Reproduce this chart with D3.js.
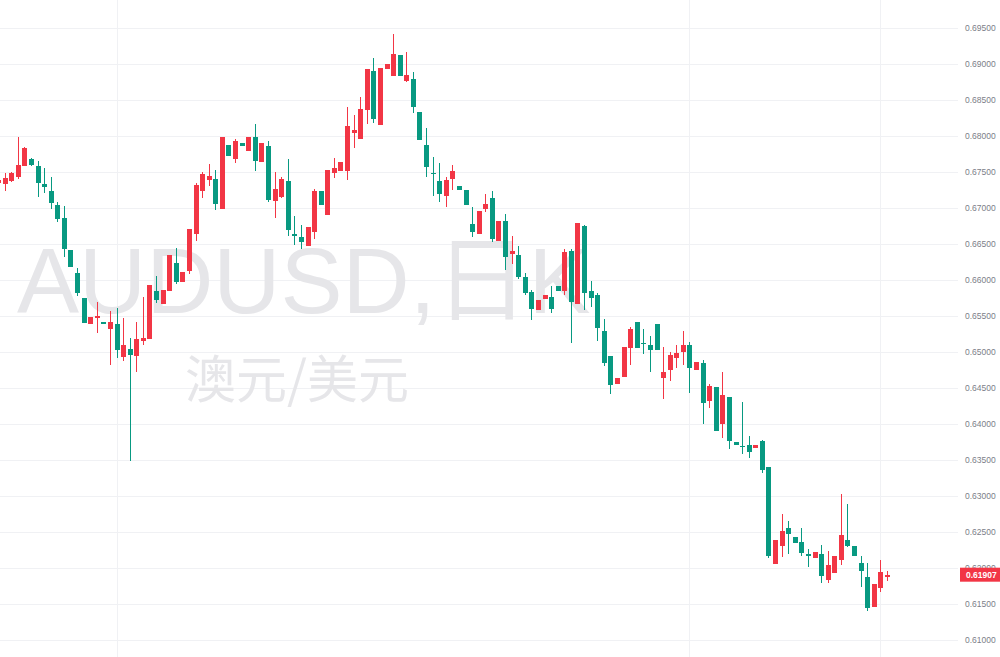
<!DOCTYPE html>
<html>
<head>
<meta charset="utf-8">
<script src="https://cdn.jsdelivr.net/npm/d3@7"></script>
<style>
  html, body { margin: 0; padding: 0; background: #ffffff; }
  svg { display: block; }
</style>
</head>
<body>
<svg id="chart" width="1000" height="657"></svg>
<script>
// ---- data (AUDUSD daily candles) ----
const symbolText = "AUDUSD,日K";
const nameText = "澳元/美元";
const lastPrice = 0.61907;

const opens = [
0.67347, 0.67333, 0.67375, 0.67431, 0.67584, 0.67681, 0.67584, 0.67333, 0.67236, 0.67042,
0.66861, 0.66417, 0.66097, 0.65750, 0.65388, 0.65472, 0.65416, 0.65319, 0.65388, 0.64931,
0.65042, 0.64945, 0.65153, 0.65181, 0.65847, 0.65666, 0.65847, 0.66236, 0.65972, 0.66125,
0.66639, 0.67236, 0.67389, 0.67403, 0.66986, 0.67875, 0.67681, 0.67903, 0.67792, 0.67986,
0.67639, 0.67861, 0.67097, 0.67153, 0.67375, 0.66639, 0.66597, 0.66472, 0.66667, 0.67236,
0.66903, 0.67486, 0.67514, 0.67514, 0.68041, 0.67958, 0.68361, 0.68903, 0.68153, 0.68931,
0.68833, 0.69125, 0.68764, 0.68792, 0.68333, 0.67875, 0.67486, 0.67375, 0.67167, 0.67403,
0.67306, 0.67250, 0.66778, 0.66639, 0.66986, 0.67139, 0.66542, 0.66819, 0.66362, 0.66348,
0.66042, 0.65833, 0.65583, 0.65736, 0.65764, 0.65917, 0.65847, 0.66403, 0.65666, 0.66750,
0.65847, 0.65792, 0.65292, 0.64945, 0.64556, 0.64653, 0.65056, 0.65416, 0.65125, 0.65097,
0.65388, 0.64639, 0.64750, 0.64917, 0.65000, 0.65097, 0.64750, 0.64847, 0.64319, 0.64514,
0.64000, 0.64375, 0.63750, 0.63694, 0.63708, 0.63667, 0.63764, 0.63403, 0.62056, 0.62305,
0.62556, 0.62430, 0.62361, 0.62194, 0.62139, 0.62194, 0.61833, 0.61931, 0.62111, 0.62389,
0.62305, 0.62069, 0.61875, 0.61459, 0.61722, 0.61875
];
const highs = [
0.67417, 0.67486, 0.67500, 0.67986, 0.67847, 0.67695, 0.67653, 0.67556, 0.67431, 0.67083,
0.67028, 0.66417, 0.66167, 0.65750, 0.65486, 0.65694, 0.65416, 0.65569, 0.65611, 0.65472,
0.65195, 0.65416, 0.65764, 0.65931, 0.66056, 0.65861, 0.66348, 0.66445, 0.66111, 0.66708,
0.67347, 0.67500, 0.67611, 0.67528, 0.67986, 0.67875, 0.67958, 0.67903, 0.67986, 0.68167,
0.67903, 0.67930, 0.67500, 0.67431, 0.67681, 0.66889, 0.66764, 0.66736, 0.67264, 0.67236,
0.67528, 0.67695, 0.67639, 0.68403, 0.68292, 0.68542, 0.68931, 0.69083, 0.68945, 0.69000,
0.69417, 0.69125, 0.69167, 0.68889, 0.68333, 0.68111, 0.67708, 0.67625, 0.67431, 0.67598,
0.67306, 0.67250, 0.67014, 0.66958, 0.67194, 0.67236, 0.66819, 0.66917, 0.66611, 0.66472,
0.66097, 0.65861, 0.65722, 0.65792, 0.65917, 0.65917, 0.66431, 0.66431, 0.66792, 0.66764,
0.65986, 0.65819, 0.65458, 0.64945, 0.64639, 0.65069, 0.65347, 0.65416, 0.65319, 0.65222,
0.65388, 0.65069, 0.65000, 0.65097, 0.65292, 0.65139, 0.64861, 0.64889, 0.64556, 0.64514,
0.64722, 0.64375, 0.63750, 0.64306, 0.63833, 0.63708, 0.63778, 0.63403, 0.62389, 0.62750,
0.62653, 0.62430, 0.62556, 0.62264, 0.62222, 0.62319, 0.62236, 0.62167, 0.63028, 0.62889,
0.62305, 0.62167, 0.62069, 0.61778, 0.62111, 0.61958
];
const lows = [
0.67320, 0.67236, 0.67361, 0.67403, 0.67584, 0.67584, 0.67153, 0.67208, 0.66986, 0.66805,
0.66320, 0.66181, 0.65778, 0.65402, 0.65388, 0.65264, 0.65388, 0.64820, 0.64917, 0.64875,
0.63486, 0.64722, 0.65097, 0.65181, 0.65680, 0.65666, 0.65847, 0.65944, 0.65972, 0.66083,
0.66542, 0.67139, 0.67306, 0.66972, 0.66986, 0.67722, 0.67625, 0.67861, 0.67792, 0.67514,
0.67639, 0.67083, 0.66861, 0.67139, 0.66611, 0.66486, 0.66431, 0.66472, 0.66569, 0.67042,
0.66903, 0.67417, 0.67514, 0.67389, 0.67833, 0.67958, 0.68167, 0.68181, 0.68153, 0.68931,
0.68833, 0.68833, 0.68750, 0.68319, 0.67944, 0.67431, 0.67167, 0.67083, 0.67014, 0.67250,
0.67250, 0.67042, 0.66597, 0.66639, 0.66944, 0.66528, 0.66542, 0.66139, 0.66222, 0.66014,
0.65792, 0.65444, 0.65583, 0.65736, 0.65542, 0.65847, 0.65792, 0.65125, 0.65666, 0.65583,
0.65625, 0.65153, 0.64806, 0.64417, 0.64556, 0.64653, 0.64820, 0.65056, 0.64972, 0.64722,
0.65028, 0.64347, 0.64597, 0.64778, 0.64820, 0.64431, 0.64750, 0.64000, 0.64222, 0.63903,
0.63806, 0.63653, 0.63708, 0.63583, 0.63528, 0.63667, 0.63319, 0.62139, 0.62056, 0.62153,
0.62194, 0.62347, 0.62167, 0.62014, 0.62139, 0.61792, 0.61792, 0.61931, 0.62042, 0.62292,
0.62167, 0.61736, 0.61403, 0.61459, 0.61667, 0.61819
];
const closes = [
0.67389, 0.67417, 0.67486, 0.67598, 0.67833, 0.67598, 0.67347, 0.67292, 0.67070, 0.66847,
0.66431, 0.66181, 0.65819, 0.65402, 0.65486, 0.65500, 0.65388, 0.65416, 0.65028, 0.65097,
0.64959, 0.65181, 0.65195, 0.65931, 0.65722, 0.65861, 0.66348, 0.65972, 0.66111, 0.66708,
0.67320, 0.67472, 0.67445, 0.67056, 0.67986, 0.67722, 0.67930, 0.67861, 0.67986, 0.67653,
0.67903, 0.67111, 0.67264, 0.67403, 0.66694, 0.66611, 0.66528, 0.66736, 0.67236, 0.67042,
0.67528, 0.67556, 0.67639, 0.68139, 0.68083, 0.68375, 0.68931, 0.68236, 0.68945, 0.69000,
0.69139, 0.68833, 0.68847, 0.68403, 0.67944, 0.67570, 0.67472, 0.67194, 0.67389, 0.67514,
0.67250, 0.67042, 0.66667, 0.66958, 0.67056, 0.66569, 0.66819, 0.66320, 0.66403, 0.66042,
0.65819, 0.65597, 0.65722, 0.65792, 0.65597, 0.65847, 0.66389, 0.65694, 0.66792, 0.65819,
0.65750, 0.65333, 0.64847, 0.64542, 0.64639, 0.65069, 0.65319, 0.65056, 0.65111, 0.65028,
0.65028, 0.64722, 0.64959, 0.64986, 0.65097, 0.64778, 0.64861, 0.64292, 0.64528, 0.63903,
0.64403, 0.63764, 0.63708, 0.63681, 0.63611, 0.63708, 0.63361, 0.62167, 0.62389, 0.62514,
0.62472, 0.62347, 0.62208, 0.62167, 0.62222, 0.61889, 0.62042, 0.62167, 0.62458, 0.62305,
0.62167, 0.61958, 0.61445, 0.61778, 0.61944, 0.61907
];
// price-axis tick labels
const priceTicks = [0.61, 0.615, 0.62, 0.625, 0.63, 0.635, 0.64, 0.645, 0.65, 0.655,
                    0.66, 0.665, 0.67, 0.675, 0.68, 0.685, 0.69, 0.695];
// candle positions where the time grid lines fall
const timeGridIdx = [18, 105, 134];

// ---- drawing ----
const W = 1000, H = 657;
const plotRight = 958;
const upColor = "#f23645", downColor = "#089981";
const gridColor = "#f0f1f4";

const svg = d3.select("#chart");
const n = opens.length;
const x = d3.scaleLinear().domain([0, n - 1]).range([-2, 887]);
const y = d3.scaleLinear().domain([0.61, 0.695]).range([640, 28]);

svg.append("rect").attr("width", W).attr("height", H).attr("fill", "#fff");

// horizontal grid
svg.append("g").selectAll("line").data(priceTicks).join("line")
  .attr("x1", 0).attr("x2", plotRight)
  .attr("y1", d => Math.round(y(d)) + 0.5).attr("y2", d => Math.round(y(d)) + 0.5)
  .attr("stroke", gridColor).attr("stroke-width", 1);

// vertical grid
svg.append("g").selectAll("line").data(timeGridIdx).join("line")
  .attr("x1", d => Math.round(x(d)) + 0.5).attr("x2", d => Math.round(x(d)) + 0.5)
  .attr("y1", 0).attr("y2", H)
  .attr("stroke", gridColor).attr("stroke-width", 1);

// watermark
svg.append("text")
  .attr("x", 17).attr("y", 313)
  .attr("font-family", "'Liberation Sans', Arial, 'Noto Sans CJK SC', sans-serif")
  .attr("font-size", 93)
  .attr("fill", "#e6e6e9")
  .text(symbolText);
svg.append("text")
  .attr("x", 185).attr("y", 398)
  .attr("font-family", "'Noto Sans CJK SC', sans-serif")
  .attr("font-size", 51)
  .attr("fill", "#e6e6e9")
  .text(nameText);

// candles
const idx = d3.range(n);
const col = i => closes[i] >= opens[i] ? upColor : downColor;
const g = svg.append("g");
g.selectAll("rect.wick").data(idx).join("rect")
  .attr("class", "wick")
  .attr("x", i => Math.round(x(i)))
  .attr("width", 1)
  .attr("y", i => Math.round(y(highs[i])))
  .attr("height", i => Math.max(1, Math.round(y(lows[i])) - Math.round(y(highs[i]))))
  .attr("fill", col);
g.selectAll("rect.body").data(idx).join("rect")
  .attr("class", "body")
  .attr("x", i => Math.round(x(i)) - 2)
  .attr("width", 5)
  .attr("y", i => Math.round(y(Math.max(opens[i], closes[i]))))
  .attr("height", i => Math.max(1, Math.round(y(Math.min(opens[i], closes[i]))) - Math.round(y(Math.max(opens[i], closes[i])))))
  .attr("fill", col);

// price axis labels
const fmt = d3.format(".5f");
svg.append("g").selectAll("text").data(priceTicks).join("text")
  .attr("x", 965).attr("y", d => y(d))
  .attr("dy", "0.35em")
  .attr("font-family", "'Liberation Sans', Arial, sans-serif")
  .attr("font-size", 8.5)
  .attr("fill", "#7b7e88")
  .text(d => fmt(d));

// last price tag
const ly = y(lastPrice);
svg.append("rect")
  .attr("x", 960).attr("y", ly - 7).attr("width", 40).attr("height", 14)
  .attr("fill", upColor);
svg.append("text")
  .attr("x", 966).attr("y", ly).attr("dy", "0.35em")
  .attr("font-family", "'Liberation Sans', Arial, sans-serif")
  .attr("font-size", 8.5).attr("font-weight", "bold")
  .attr("fill", "#ffffff")
  .text(fmt(lastPrice));
</script>
</body>
</html>
